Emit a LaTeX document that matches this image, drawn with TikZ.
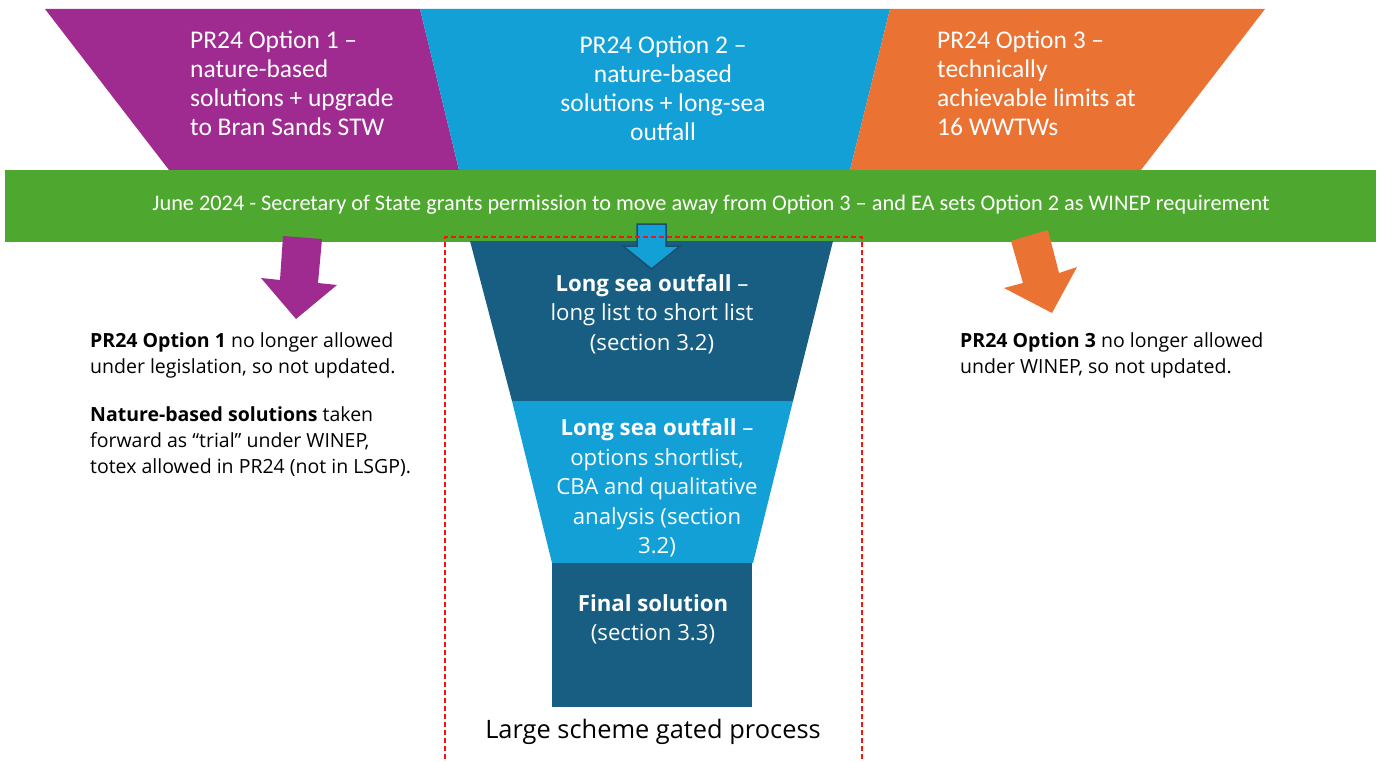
\documentclass[tikz,border=0pt]{standalone}
\usepackage{fontspec}
\setmainfont{Open Sans}
\newfontfamily\narrowfont{Carlito}
\definecolor{purp}{HTML}{9F2B90}
\definecolor{topblue}{HTML}{12A0D7}
\definecolor{orng}{HTML}{EA7233}
\definecolor{grn}{HTML}{4EA72E}
\definecolor{darkblue}{HTML}{175E82}
\definecolor{arrowedge}{HTML}{1A4E6E}
\definecolor{dashred}{HTML}{FF1010}
\begin{document}
\begin{tikzpicture}[x=1pt,y=-1pt,
  toptext/.style={text=white,inner sep=0pt,font=\narrowfont\fontsize{25.5}{29}\selectfont},
  bartext/.style={text=white,inner sep=0pt,font=\narrowfont\fontsize{22.3}{26}\selectfont},
  funneltext/.style={text=white,inner sep=0pt,align=center,font=\fontsize{22.2}{29.5}\selectfont},
  sidetext/.style={text=black,inner sep=0pt,align=left,anchor=west,font=\fontsize{19.5}{26}\selectfont},
  captext/.style={text=black,inner sep=0pt,font=\fontsize{25.4}{30}\selectfont}]
\useasboundingbox (0,0) rectangle (1378,762);
% top trapezoids
\fill[purp] (45,9) -- (420,9) -- (459,170) -- (169,170) -- cycle;
\fill[topblue] (420,9) -- (890,9) -- (850,170) -- (459,170) -- cycle;
\fill[orng] (890,9) -- (1265,9) -- (1141,170) -- (850,170) -- cycle;
% green bar
\fill[grn] (5,170) rectangle (1376,242);
% funnel
\fill[darkblue] (470,241) -- (833,241) -- (793,401) -- (512,401) -- cycle;
\fill[topblue] (512,401) -- (793,401) -- (753,563) -- (552,563) -- cycle;
\fill[darkblue] (552,563) rectangle (752,707);
% arrows
\fill[purp] (283,236) -- (322,239) -- (318,283) -- (337,285) -- (296,319) -- (261,278) -- (280,280) -- cycle;
\fill[orng] (1011,241) -- (1048,230) -- (1059,273) -- (1077,267) -- (1052,313) -- (1004,288) -- (1023,283) -- cycle;
\filldraw[fill=topblue,draw=arrowedge,line width=1.5pt,line join=miter]
  (637,224) -- (666,224) -- (666,246) -- (680,246) -- (651.5,269) -- (623,246) -- (637,246) -- cycle;
% dashed box
\draw[dashred,line width=1.6pt,dash pattern=on 5pt off 3pt] (445,775) -- (445,237) -- (862,237) -- (862,775);
% texts
\node[toptext,align=left,anchor=west] (o1) at (190,83.5) {PR24 Option 1 –\\nature-based\\solutions + upgrade\\to Bran Sands STW};
\node[toptext,align=center] (o2) at (663,88.5) {PR24 Option 2 –\\nature-based\\solutions + long-sea\\outfall};
\node[toptext,align=left,anchor=west] (o3) at (937,83.5) {PR24 Option 3 –\\technically\\achievable limits at\\16 WWTWs};
\node[bartext] (bar) at (711,205) {June 2024 - Secretary of State grants permission to move away from Option 3 – and EA sets Option 2 as WINEP requirement};
\node[funneltext] (f1) at (652,314) {\textbf{Long sea outfall} –\\long list to short list\\(section 3.2)};
\node[funneltext] (f2) at (657,488) {\textbf{Long sea outfall} –\\options shortlist,\\CBA and qualitative\\analysis (section\\3.2)};
\node[funneltext] (f3) at (653,619.5) {\textbf{Final solution}\\(section 3.3)};
\node[captext] (cap) at (653,732) {Large scheme gated process};
\node[sidetext] (l1) at (90,355) {\textbf{PR24 Option 1} no longer allowed\\under legislation, so not updated.};
\node[sidetext] (l2) at (90,442) {\textbf{Nature-based solutions} taken\\forward as “trial” under WINEP,\\totex allowed in PR24 (not in LSGP).};
\node[sidetext] (r1) at (960,355) {\textbf{PR24 Option 3} no longer allowed\\under WINEP, so not updated.};
\end{tikzpicture}
\end{document}
